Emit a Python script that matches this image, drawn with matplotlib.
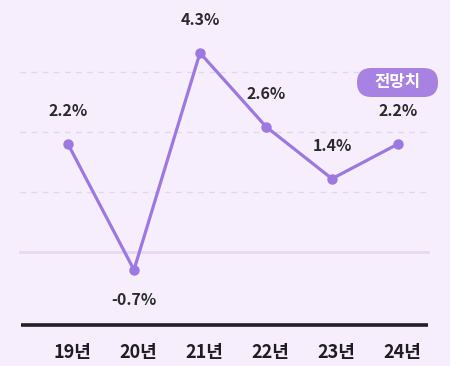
import matplotlib.pyplot as plt
from matplotlib.patches import FancyBboxPatch

years = ['19년', '20년', '21년', '22년', '23년', '24년']
growth = [2.2, -0.7, 4.3, 2.6, 1.4, 2.2]
value_labels = ['2.2%', '-0.7%', '4.3%', '2.6%', '1.4%', '2.2%']
badge_text = '전망치'

plt.rcParams['font.family'] = ['Noto Sans CJK KR', 'DejaVu Sans']

bg = '#f6eefc'
purple = '#9d78e0'

fig = plt.figure(figsize=(4.5, 3.66), dpi=100, facecolor=bg)
ax = fig.add_axes([0, 0, 1, 1])
ax.set_facecolor(bg)
ax.set_xlim(-1.03, 5.788)
ax.set_ylim(-2.915, 5.518)
ax.axis('off')

# decorative grid (axes fraction)
for yf in [0.803, 0.639, 0.475]:
    ax.plot([0.044, 0.951], [yf, yf], transform=ax.transAxes, color='#e2d6ef',
            lw=1.0, ls=(0, (4, 4)), zorder=1)
ax.plot([0.044, 0.951], [0.311, 0.311], transform=ax.transAxes, color='#e6d8f5',
        lw=2.0, zorder=1)
ax.plot([0.046, 0.951], [0.112, 0.112], transform=ax.transAxes, color='#221f26',
        lw=2.6, solid_capstyle='butt', zorder=2)

x = list(range(len(years)))
ax.plot(x, growth, color=purple, lw=2.3, marker='o', ms=6.5, zorder=3)

for i, (v, lab) in enumerate(zip(growth, value_labels)):
    off = -30 if v < 0 else 33
    ax.annotate(lab, (i, v), xytext=(0, off), textcoords='offset pixels',
                ha='center', va='center', fontsize=11.5, fontweight='bold',
                color='#2a2a2e')

tr = ax.get_xaxis_transform()
for i, yr in enumerate(years):
    ax.text(i + 0.06, 0.038, yr, transform=tr, ha='center', va='center',
            fontsize=13, fontweight='bold', color='#1e1e22')

# badge
bx0, by0, bw, bh = 357 / 450, 1 - 97 / 366, 81 / 450, 29 / 366
badge = FancyBboxPatch((bx0, by0), bw, bh, transform=ax.transAxes,
                       boxstyle='round,pad=0,rounding_size=0.032',
                       mutation_aspect=450 / 366,
                       fc='#a882e2', ec='none', zorder=4)
ax.add_patch(badge)
ax.text(bx0 + bw / 2, by0 + bh / 2, badge_text, transform=ax.transAxes,
        ha='center', va='center', fontsize=12, fontweight='bold',
        color='white', zorder=5)

fig.savefig('out.png', dpi=100, facecolor=bg)
